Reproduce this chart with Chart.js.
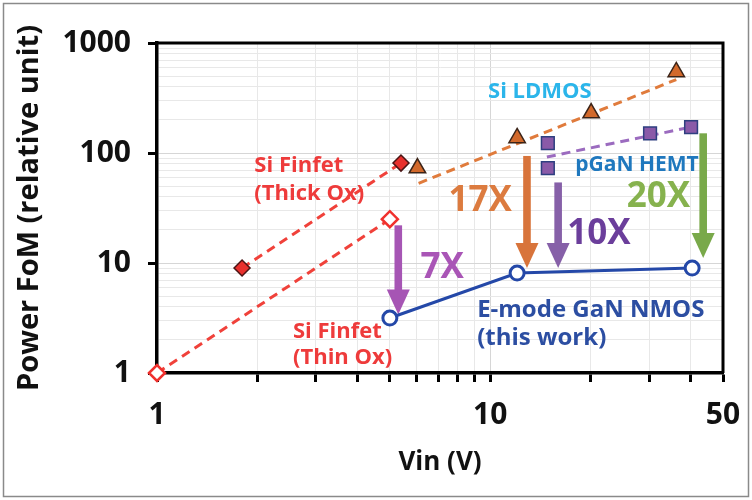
<!DOCTYPE html>
<html>
<head>
<meta charset="utf-8">
<script src="https://cdn.jsdelivr.net/npm/chart.js@4.4.1/dist/chart.umd.min.js"></script>
<style>
  body { margin: 0; background: #fff; }
  canvas { display: block; }
</style>
</head>
<body>
<canvas id="myChart" width="752" height="500"></canvas>
<script>
//--------------------- Data

// Si Finfet, thick oxide (filled red diamonds) and thin oxide (hollow red diamonds)
var finfetThickX = [1.8, 5.4]
var finfetThickY = [9, 81]
var finfetThinX = [1, 5]
var finfetThinY = [1, 25]

// Si LDMOS triangles and its trend line
var ldmosX = [6.05, 12.05, 20.1, 36.2]
var ldmosY = [73, 137, 231, 545]
var ldmosTrendX = [6.1, 36.2]
var ldmosTrendY = [53, 465]

// pGaN HEMT squares and its trend line
var pganX = [14.9, 14.9, 30.2, 40.1]
var pganY = [123, 73, 151, 172]
var pganTrendX = [14.8, 40.1]
var pganTrendY = [92, 172]

// E-mode GaN NMOS (this work)
var ganX = [5, 12.05, 40.4]
var ganY = [3.16, 8.1, 9.0]

// Improvement arrows: x position, start value, end value
var arrowX = [5.3, 12.9, 16, 43.6]
var arrowFrom = [22, 94, 54, 151]
var arrowTo = [3.4, 9.0, 9.0, 11.1]
var arrowColors = ["#a655b4", "#d8743b", "#8660a8", "#79a94a"]

// Axis ticks
var xTicks = [1, 2, 3, 4, 5, 6, 7, 8, 9, 10, 20, 30, 40, 50]
var xTickLabels = [1, 10, 50]
var yTicks = [1, 2, 3, 4, 5, 6, 7, 8, 9, 10, 20, 30, 40, 50, 60, 70, 80, 90,
              100, 200, 300, 400, 500, 600, 700, 800, 900, 1000]
var yTickLabels = [1, 10, 100, 1000]

//--------------------- Text notes placed on the plot (data coordinates)
var notes = [
  {text: "Si Finfet", x: 1.96, y: 76, color: "#ee3b3b", size: 22, align: "left"},
  {text: "(Thick Ox)", x: 1.96, y: 43, color: "#ee3b3b", size: 22, align: "left"},
  {text: "Si Finfet", x: 2.56, y: 2.36, color: "#ee3b3b", size: 22, align: "left"},
  {text: "(Thin Ox)", x: 2.56, y: 1.37, color: "#ee3b3b", size: 22, align: "left"},
  {text: "Si LDMOS", x: 14.1, y: 359, color: "#2bb5ea", size: 22, align: "center"},
  {text: "pGaN HEMT", x: 27.6, y: 78, color: "#1f78be", size: 21, align: "center"},
  {text: "17X", x: 9.33, y: 36.6, color: "#dc7b3f", size: 35, align: "center"},
  {text: "10X", x: 21.2, y: 18.4, color: "#6b3e9b", size: 35, align: "center"},
  {text: "20X", x: 32, y: 39.8, color: "#86b24e", size: 35, align: "center"},
  {text: "7X", x: 7.18, y: 9.0, color: "#a955b6", size: 35, align: "center"},
  {text: "E-mode GaN NMOS", x: 9.14, y: 3.74, color: "#2c4ea2", size: 24, align: "left"},
  {text: "(this work)", x: 9.14, y: 2.08, color: "#2c4ea2", size: 24, align: "left"}
]

//--------------------- Helpers

//Pairs two arrays into scatter points
function toPoints(xs, ys) {
    var pts = []
    for (var i = 0; i < xs.length; i++) {
        pts.push({x: xs[i], y: ys[i]})
    }
    return pts
}

function inList(value, array) {
    return array.indexOf(value) !== -1
}

//Draws the arrows and the text notes under the markers
var overlayPlugin = {
    id: "overlay",
    beforeDatasetsDraw: function (chart) {
        var ctx = chart.ctx
        var xs = chart.scales.x, ys = chart.scales.y
        ctx.save()
        ctx.textBaseline = "middle"
        for (var i = 0; i < notes.length; i++) {
            var n = notes[i]
            ctx.font = "bold " + n.size + "px 'Open Sans', sans-serif"
            ctx.fillStyle = n.color
            ctx.textAlign = n.align
            ctx.fillText(n.text, xs.getPixelForValue(n.x), ys.getPixelForValue(n.y))
        }
        for (var j = 0; j < arrowX.length; j++) {
            var px = xs.getPixelForValue(arrowX[j])
            var y0 = ys.getPixelForValue(arrowFrom[j])
            var y1 = ys.getPixelForValue(arrowTo[j])
            var head = 25, hw = 11.5, sw = 3.8
            ctx.fillStyle = arrowColors[j]
            ctx.fillRect(px - sw, y0, 2 * sw, y1 - head - y0 + 1)
            ctx.beginPath()
            ctx.moveTo(px - hw, y1 - head)
            ctx.lineTo(px + hw, y1 - head)
            ctx.lineTo(px, y1)
            ctx.closePath()
            ctx.fill()
        }
        ctx.restore()
    },
    afterDraw: function (chart) {
        //top and right frame of the plot, plus the thin picture border
        var ctx = chart.ctx, a = chart.chartArea
        ctx.save()
        ctx.strokeStyle = "#000"
        ctx.lineWidth = 3
        ctx.beginPath()
        ctx.moveTo(a.left, a.top)
        ctx.lineTo(a.right, a.top)
        ctx.lineTo(a.right, a.bottom)
        ctx.stroke()
        ctx.strokeStyle = "#8a8a8a"
        ctx.lineWidth = 1.5
        ctx.strokeRect(3.5, 3.5, 745, 493)
        ctx.restore()
    }
}

Chart.defaults.font.family = "'Open Sans', sans-serif"
Chart.defaults.color = "#111"

var dashed = [9, 6]

const ctx = document.getElementById("myChart")
const myChart = new Chart(ctx, {
    type: "scatter",
    data: {
        datasets: [
            {
                label: "E-mode GaN NMOS",
                data: toPoints(ganX, ganY),
                showLine: true,
                borderColor: "#2448a8",
                borderWidth: 3,
                pointStyle: "circle",
                pointRadius: 7,
                pointBorderWidth: 3,
                pointBackgroundColor: "#fff",
                pointBorderColor: "#2448a8",
                order: 0
            },
            {
                label: "Si Finfet (Thick Ox)",
                data: toPoints(finfetThickX, finfetThickY),
                showLine: true,
                borderColor: "#f0413a",
                borderWidth: 3,
                borderDash: dashed,
                pointStyle: "rectRot",
                pointRadius: 8,
                pointBorderWidth: 1.5,
                pointBackgroundColor: "#e8302d",
                pointBorderColor: "#4a1414",
                order: 1
            },
            {
                label: "Si Finfet (Thin Ox)",
                data: toPoints(finfetThinX, finfetThinY),
                showLine: true,
                borderColor: "#f0413a",
                borderWidth: 3,
                borderDash: dashed,
                pointStyle: "rectRot",
                pointRadius: 8,
                pointBorderWidth: 2.5,
                pointBackgroundColor: "#fff",
                pointBorderColor: "#f0302d",
                order: 1
            },
            {
                label: "Si LDMOS",
                data: toPoints(ldmosX, ldmosY),
                showLine: false,
                pointStyle: "triangle",
                pointRadius: 9.5,
                pointBorderWidth: 1.5,
                pointBackgroundColor: "#d2692b",
                pointBorderColor: "#3b2418",
                order: 2
            },
            {
                label: "Si LDMOS trend",
                data: toPoints(ldmosTrendX, ldmosTrendY),
                showLine: true,
                borderColor: "#e07b3c",
                borderWidth: 3,
                borderDash: dashed,
                pointRadius: 0,
                order: 3
            },
            {
                label: "pGaN HEMT",
                data: toPoints(pganX, pganY),
                showLine: false,
                pointStyle: "rect",
                pointRadius: 9,
                pointBorderWidth: 1.5,
                pointBackgroundColor: "#8a5aa8",
                pointBorderColor: "#2e3f80",
                order: 2
            },
            {
                label: "pGaN HEMT trend",
                data: toPoints(pganTrendX, pganTrendY),
                showLine: true,
                borderColor: "#9b6bbf",
                borderWidth: 3,
                borderDash: dashed,
                pointRadius: 0,
                order: 3
            }
        ]
    },
    options: {
        responsive: false,
        animation: false,
        clip: false,
        layout: {
            padding: {top: 43, right: 29, bottom: 0, left: 0}
        },
        plugins: {
            legend: {display: false},
            tooltip: {enabled: false}
        },
        scales: {
            x: {
                type: "logarithmic",
                min: 1,
                max: 50,
                afterBuildTicks: function (scale) {
                    scale.ticks = xTicks.map(function (v) { return {value: v} })
                },
                afterFit: function (scale) { scale.height = 127 },
                ticks: {
                    autoSkip: false,
                    maxRotation: 0,
                    padding: 10,
                    color: "#111",
                    font: {size: 30, weight: "bold", lineHeight: 1.55},
                    callback: function (value) {
                        return inList(value, xTickLabels) ? String(value) : ""
                    }
                },
                grid: {
                    color: function (c) {
                        return c.tick && inList(c.tick.value, [10]) ? "#d6d6d6" : "#e8e8e8"
                    },
                    lineWidth: 1,
                    tickColor: "#000",
                    tickWidth: 3,
                    tickLength: 9
                },
                border: {display: true, color: "#000", width: 3.5},
                title: {
                    display: true,
                    text: "Vin (V)",
                    color: "#111",
                    font: {size: 26, weight: "bold"},
                    padding: {top: 0, bottom: 22}
                }
            },
            y: {
                type: "logarithmic",
                min: 1,
                max: 1000,
                afterBuildTicks: function (scale) {
                    scale.ticks = yTicks.map(function (v) { return {value: v} })
                },
                afterFit: function (scale) { scale.width = 157 },
                ticks: {
                    autoSkip: false,
                    padding: 17,
                    color: "#111",
                    font: {size: 30, weight: "bold"},
                    callback: function (value) {
                        return inList(value, yTickLabels) ? String(value) : ""
                    }
                },
                grid: {
                    color: function (c) {
                        return c.tick && inList(c.tick.value, yTickLabels) ? "#d6d6d6" : "#e8e8e8"
                    },
                    lineWidth: 1,
                    tickColor: function (c) {
                        return c.tick && inList(c.tick.value, yTickLabels) ? "#000" : "rgba(0,0,0,0)"
                    },
                    tickWidth: 3,
                    tickLength: 9
                },
                border: {display: true, color: "#000", width: 3.5},
                title: {
                    display: true,
                    text: "Power FoM (relative unit)",
                    color: "#111",
                    font: {size: 29, weight: "bold"},
                    padding: {top: 12, bottom: 0}
                }
            }
        }
    },
    plugins: [overlayPlugin]
})
</script>
</body>
</html>
